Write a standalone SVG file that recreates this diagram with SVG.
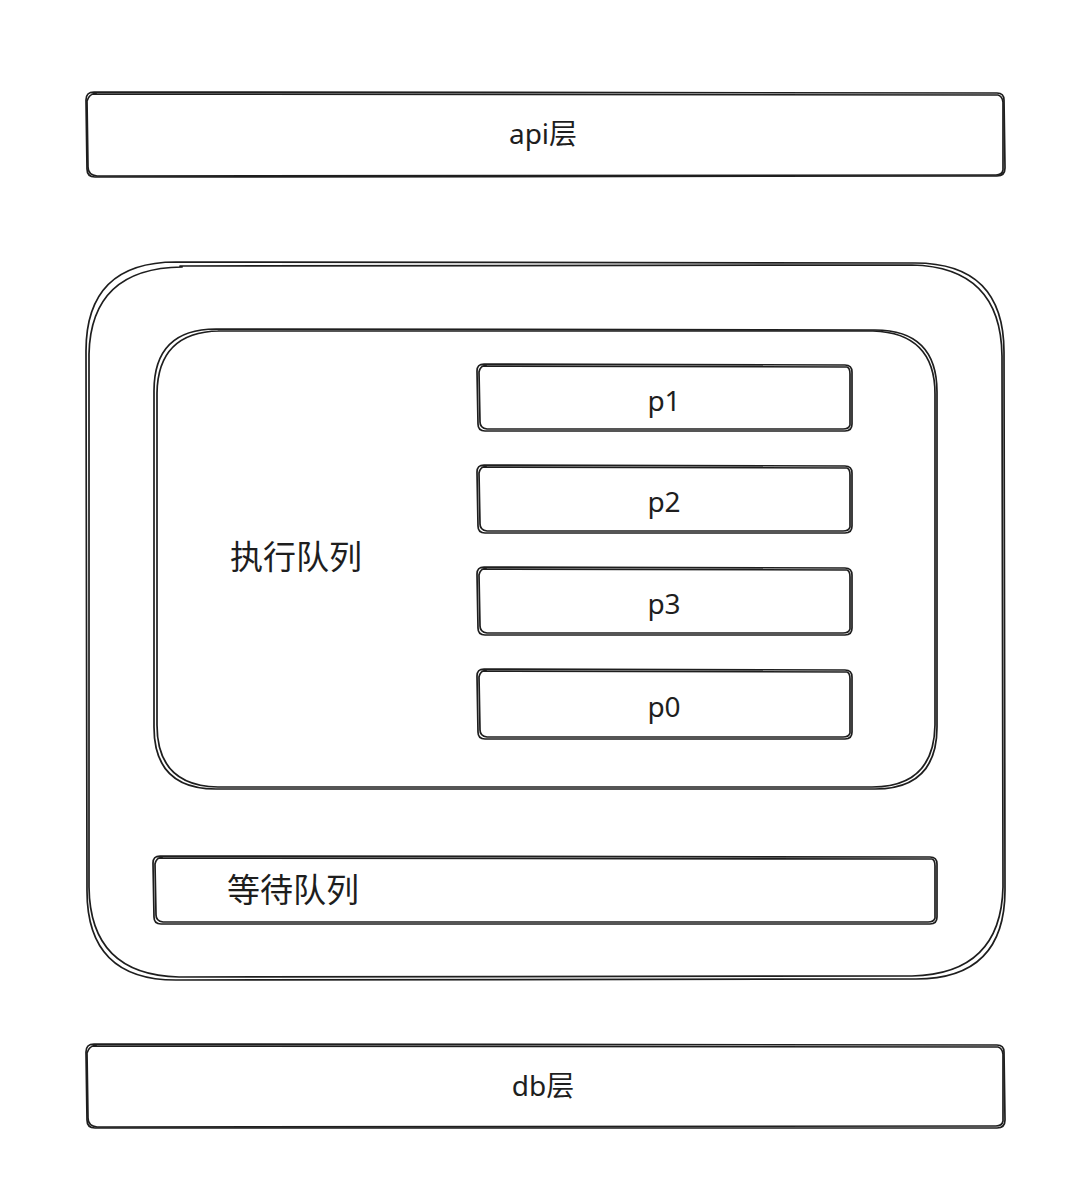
<svg xmlns="http://www.w3.org/2000/svg" width="1088" height="1204" viewBox="0 0 1088 1204">
<style>
.s{fill:none;stroke:#1e1e1e;stroke-width:1.7;stroke-linecap:round;stroke-linejoin:round}
.t{font-family:"Noto Sans","Noto Sans CJK SC",sans-serif;fill:#1e1e1e}
.lbl{font-size:28px;text-anchor:middle;dominant-baseline:central}
.cjk{font-family:"Noto Sans CJK SC","Noto Sans",sans-serif;font-size:33px;dominant-baseline:central}
</style>
<rect width="1088" height="1204" fill="#ffffff"/>
<g id="api">
<path class="s" d="M94 92 L997 93 Q1004 93 1004 100 L1005 168 Q1005 176 997 176 L95 177 Q87 177 87 169 L86 100 Q86 92 94 92 Z"/>
<path class="s" d="M92 94 L998 95 Q1002 96 1003 102 L1003 170 Q1002 175 996 175 L97 176 Q88 175 88 167 L87 101 Q89 94 96 93"/>
<text class="t lbl" x="543" y="133">api层</text>
</g>
<g id="outer">
<path class="s" d="M176 262 L915 263 Q1004 263 1004 352 L1005 890 Q1005 979 916 979 L176 980 Q87 980 87 891 L86 351 Q86 262 176 262 Z"/>
<path class="s" d="M180 266 L912 265 Q1001 267 1002 356 L1003 887 Q1001 974 912 976 L179 977 Q90 975 89 887 L89 354 Q91 268 182 267"/>
</g>
<g id="exec">
<path class="s" d="M216 329 L875 330 Q937 330 937 392 L937 727 Q937 789 875 789 L216 789 Q154 789 154 727 L154 391 Q154 329 216 329 Z"/>
<path class="s" d="M218 331 L873 331 Q935 333 935 394 L935 725 Q934 787 872 787 L218 787 Q157 786 157 725 L157 393 Q158 332 219 331"/>
<text class="t cjk" x="230" y="555">执行队列</text>
</g>
<g id="p1">
<path class="s" d="M484 364 L845 365 Q852 365 852 372 L852 424 Q852 431 845 431 L485 431 Q478 431 478 424 L477 371 Q477 364 484 364 Z"/>
<path class="s" d="M482 366 L847 367 Q850 368 850 374 L850 425 Q849 429 843 429 L487 429 Q480 428 480 422 L479 372 Q480 366 486 365"/>
<text class="t lbl" x="664" y="400">p1</text>
</g>
<g id="p2">
<path class="s" d="M484 465 L845 466 Q852 466 852 473 L852 526 Q852 533 845 533 L485 533 Q478 533 478 526 L477 472 Q477 465 484 465 Z"/>
<path class="s" d="M482 467 L847 468 Q850 469 850 475 L850 527 Q849 531 843 531 L487 531 Q480 530 480 524 L479 473 Q480 467 486 466"/>
<text class="t lbl" x="664" y="501">p2</text>
</g>
<g id="p3">
<path class="s" d="M484 567 L845 568 Q852 568 852 575 L852 628 Q852 635 845 635 L485 635 Q478 635 478 628 L477 574 Q477 567 484 567 Z"/>
<path class="s" d="M482 569 L847 570 Q850 571 850 577 L850 629 Q849 633 843 633 L487 633 Q480 632 480 626 L479 575 Q480 569 486 568"/>
<text class="t lbl" x="664" y="603">p3</text>
</g>
<g id="p0">
<path class="s" d="M484 669 L845 670 Q852 670 852 677 L852 732 Q852 739 845 739 L485 739 Q478 739 478 732 L477 676 Q477 669 484 669 Z"/>
<path class="s" d="M482 671 L847 672 Q850 673 850 679 L850 733 Q849 737 843 737 L487 737 Q480 736 480 730 L479 677 Q480 671 486 670"/>
<text class="t lbl" x="664" y="706">p0</text>
</g>
<g id="wait">
<path class="s" d="M160 856 L930 857 Q937 857 937 864 L937 917 Q937 924 930 924 L161 924 Q154 924 154 917 L153 863 Q153 856 160 856 Z"/>
<path class="s" d="M158 858 L932 859 Q935 860 935 866 L935 918 Q934 922 928 922 L163 922 Q156 921 156 915 L155 864 Q156 858 162 857"/>
<text class="t cjk" x="227" y="888">等待队列</text>
</g>
<g id="db">
<path class="s" d="M94 1044 L997 1045 Q1004 1045 1004 1052 L1005 1120 Q1005 1128 997 1128 L95 1128 Q87 1128 87 1120 L86 1052 Q86 1044 94 1044 Z"/>
<path class="s" d="M92 1046 L998 1047 Q1002 1048 1003 1054 L1003 1121 Q1002 1126 996 1126 L97 1127 Q88 1126 88 1118 L87 1053 Q89 1046 96 1045"/>
<text class="t lbl" x="543" y="1085">db层</text>
</g>
<g id="connectors"/>
</svg>
